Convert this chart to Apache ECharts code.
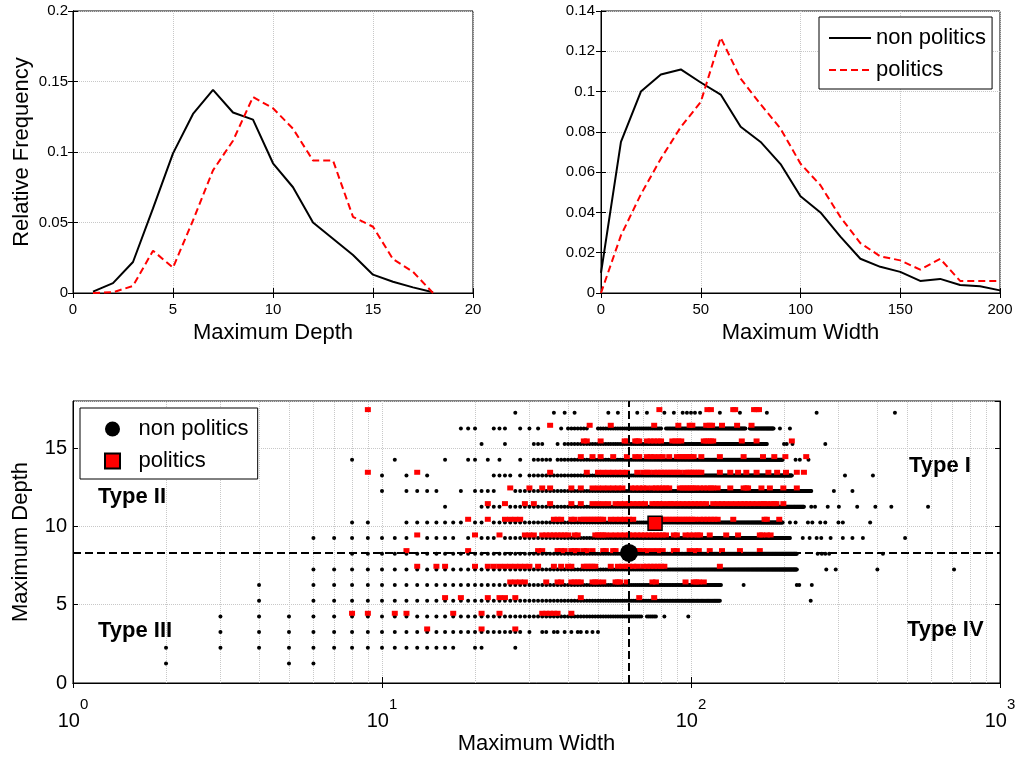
<!DOCTYPE html>
<html><head><meta charset="utf-8">
<script src="https://cdn.jsdelivr.net/npm/echarts@6/dist/echarts.min.js"></script>
<style>html,body{margin:0;padding:0;background:#fff}#c{width:1019px;height:762px}</style>
</head><body><div id="c"></div><script>
// ---------------- data ----------------
const DEPTH_X = [1,2,3,4,5,6,7,8,9,10,11,12,13,14,15,16,17,18];
const DEPTH_NONPOL = [0.001,0.007,0.022,0.06,0.099,0.127,0.144,0.128,0.123,0.092,0.075,0.050,0.0385,0.027,0.013,0.008,0.004,0.0005];
const DEPTH_POL = [0,0.0005,0.005,0.030,0.018,0.0515,0.087,0.108,0.139,0.131,0.1165,0.094,0.094,0.054,0.047,0.024,0.015,0];

const WIDTH_X = [0,10,20,30,40,50,60,70,80,90,100,110,120,130,140,150,160,170,180,190,200];
const WIDTH_NONPOL = [0.01,0.075,0.100,0.1085,0.111,0.1045,0.0985,0.0825,0.075,0.064,0.048,0.040,0.028,0.017,0.013,0.0105,0.006,0.007,0.004,0.0033,0.0013];
const WIDTH_POL = [0,0.0286,0.049,0.0667,0.0824,0.0948,0.1268,0.1064,0.0937,0.0816,0.0642,0.0535,0.0377,0.0248,0.0182,0.0162,0.0116,0.017,0.006,0.006,0.006];

// scatter rows: depth of each row and the widths seen on it ("a-b" = every integer width from a to b)
const SCAT_NONPOL_DEPTH = [17.25,16.25,15.25,14.25,13.25,12.25,11.25,10.25,9.25,8.25,7.25,6.25,5.25,4.25,3.25,2.25,1.25];
const SCAT_NONPOL_WIDTHS = [
 "27,36,39,42,54,58,67,72,82,88,94,97,100,103,107,124,144,176,255,457",
 "18,19,20,23,24,25,28,30,32,38,40-46,50-80,83-150,155-185,194,209",
 "21,25,31,32,33,37,39-176,200,204,213,272",
 "8,11,16,19,20,22,24,28,31-35,37-198,218,225,240",
 "10,12,14,23,24,25,26,28,30-212,315,388",
 "10,12,13,14,15,18,20,21,22,23,27-245,290,333",
 "16,21,22,23,24,26,27,28,29,30-232,245,252,277,301,345,395,445,585",
 "8,9,12,13,14,15,16,17,18,20,21,23-198,209,218,239,247,262,272,300,310,380",
 "6-12,14-17,19,21,22,23,25-209,230,242,255,264,283,310,333,360,493",
 "8-220,257,265,272,280,418",
 "6-220,274,294,401,710",
 "4,6-125,148,220,224,246",
 "4,6-124,244",
 "3-69,72-77,82,98",
 "3-28,30,33,34,36,37,39,41,43,44,46,48,50",
 "2-17,20,21,27",
 "2,5,6"
];
const SCAT_POL_DEPTH = [17.45,16.45,15.45,14.45,13.45,12.45,11.45,10.45,9.45,8.45,7.45,6.45,5.45,4.45,3.45];
const SCAT_POL_WIDTHS = [
 "9,79,113,116,137,139,160,163,166",
 "35,47,55,76,91,99,101,112,115,117,126,141,157",
 "45,46,51,61,62,66,67,68,72,74,76,78,80,87,89,91,93,110,112,114,116,118,146,163,212",
 "44,48,51,56,62,66,68,72,74,76,79,81,85,90,92,94,96,98,100,102,108,124,148,171,186,202,236",
 "9,13,35,46,50,52,54,56,58,60,62,67,70,72,73,76,78,80,82,84,86,88,90,92,96,98,100,102,104,106,108,124,134,142,151,163,178,190,203,220,232",
 "26,30,33,35,41,44,48,50,52,54,56,58,60,64,66,68,70,72,75,77,79,81,83,85,92,94,96,98,100,102,104,107,110,113,116,118,122,134,148,151,153,169,180,199,220",
 "22,25,29,31,35,41,44,48,50,52,54,57,59,61,63,65,67,69,71,75,77,79,81,84,86,88,91,94,97,100,103,106,109,112,118,122,126,130,135,140,145,149,153,158,163,169,172,176,182,186,189,199",
 "19,22,25,26,27,28,36,37,38,41,42,44,45,46,47,48,49,50,51,52,55,57,59,61,63,65,81,83,85,87,89,91,93,95,97,99,101,103,107,110,113,116,119,122,137,173,176,193",
 "13,20,24,29,30,31,33,34,35,36,37,38,39,40,42,43,49,50,51,52,53,55,57,59,61,63,65,67,69,71,73,75,77,79,81,83,88,90,96,99,102,105,107,115,130,142,167,170,176,181",
 "12,19,32,33,37,38,39,41,42,43,45,46,48,52,53,56,57,65,67,68,70,72,75,78,81,88,90,99,103,106,115,126,144,167",
 "13,15,16,20,22,23,24,25,26,27,28,29,30,32,36,38,40,41,45,46,47,48,49,55,58,60,62,63,65,67,70,72,74,76,78,80,82,124",
 "26,27,28,29,34,37,38,41,42,43,44,48,49,50,52,57,58,59,62,75,77,96,102,104,106,110",
 "16,18,22,24,25,27,44,68,76",
 "8,9,11,12,17,21,24,33,34,35,36,37,41",
 "14,21,27"
];
const MEAN_NONPOL = [63, 8.3];
const MEAN_POL = [76.5, 10.2];
const LOG_MINOR = [2,3,4,5,6,7,8,9,20,30,40,50,60,70,80,90,200,300,400,500,600,700,800,900];
const SERIES_NAMES = ['non politics', 'politics'];
const TYPE_LABELS = ['Type I', 'Type II', 'Type III', 'Type IV'];

// ---------------- helpers ----------------
function expand(spec){
  const out = [];
  spec.split(',').forEach(t => {
    if (t.indexOf('-') > 0) { const p = t.split('-').map(Number); for (let w = p[0]; w <= p[1]; w++) out.push(w); }
    else out.push(Number(t));
  });
  return out;
}
function rowsToPoints(depths, widths){
  const pts = [];
  depths.forEach((d, i) => expand(widths[i]).forEach(w => pts.push([w, d])));
  return pts;
}
const zip = (xs, ys) => xs.map((x, i) => [x, ys[i]]);

const FONT = 'Liberation Sans, Arial, Helvetica, sans-serif';
const BLACK = '#000';
const RED = '#ff0000';
const SQUARE = 'path://M0,0H10V10H0Z';
const grid = {show: true, lineStyle: {color: '#c8c8c8', type: 'dotted', width: 1}};
const axLine = {show: true, lineStyle: {color: BLACK, width: 1}};
const tick = {show: true, inside: true, length: 5, lineStyle: {color: BLACK}};
const titleStyle = {fontSize: 22, color: BLACK, fontFamily: FONT};

function valAxis(o){
  return Object.assign({type: 'value', axisLine: axLine, axisTick: tick, splitLine: grid,
    axisLabel: {color: BLACK, fontSize: 15, fontFamily: FONT}}, o);
}
function mirror(o){
  return Object.assign({axisLine: axLine, axisTick: tick, splitLine: {show: false}, axisLabel: {show: false}}, o);
}

const chart = echarts.init(document.getElementById('c'), null, {renderer: 'canvas'});
const option = {
  animation: false,
  backgroundColor: '#fff',
  textStyle: {fontFamily: FONT},
  grid: [
    {left: 73, top: 11, width: 400, height: 282, show: true, borderColor: BLACK, borderWidth: 1, outerBoundsMode: 'none', containLabel: false},
    {left: 601, top: 11, width: 399, height: 282, show: true, borderColor: BLACK, borderWidth: 1, outerBoundsMode: 'none', containLabel: false},
    {left: 73, top: 401, width: 927, height: 282, show: true, borderColor: BLACK, borderWidth: 1, outerBoundsMode: 'none', containLabel: false}
  ],
  xAxis: [
    valAxis({gridIndex: 0, min: 0, max: 20, interval: 5, name: 'Maximum Depth', nameLocation: 'middle', nameGap: 29, nameTextStyle: titleStyle,
      axisLabel: {color: BLACK, fontSize: 15, fontFamily: FONT, margin: 9}}),
    valAxis({gridIndex: 1, min: 0, max: 200, interval: 50, name: 'Maximum Width', nameLocation: 'middle', nameGap: 29, nameTextStyle: titleStyle,
      axisLabel: {color: BLACK, fontSize: 15, fontFamily: FONT, margin: 9}}),
    {gridIndex: 2, type: 'log', logBase: 10, min: 1, max: 1000, axisLine: axLine, axisTick: {show: true, inside: true, length: 6, lineStyle: {color: BLACK}},
      splitLine: grid, name: 'Maximum Width', nameLocation: 'middle', nameGap: 50, nameTextStyle: titleStyle,
      axisLabel: {margin: 14, formatter: v => '{b|10}{s|' + Math.round(Math.log10(v)) + '}',
        rich: {b: {fontSize: 20, fontFamily: FONT, color: BLACK, padding: [14, 0, 0, 0]},
               s: {fontSize: 15, fontFamily: FONT, color: BLACK, verticalAlign: 'top'}}}},
    mirror({type: 'value', gridIndex: 0, position: 'top', min: 0, max: 20, interval: 5}),
    mirror({type: 'value', gridIndex: 1, position: 'top', min: 0, max: 200, interval: 50}),
    mirror({type: 'log', gridIndex: 2, position: 'top', logBase: 10, min: 1, max: 1000})
  ],
  yAxis: [
    valAxis({gridIndex: 0, min: 0, max: 0.2, interval: 0.05, name: 'Relative Frequency', nameLocation: 'middle', nameGap: 40, nameRotate: 90, nameTextStyle: titleStyle,
      axisLabel: {color: BLACK, fontSize: 15, fontFamily: FONT, margin: 5}}),
    valAxis({gridIndex: 1, min: 0, max: 0.14, interval: 0.02,
      axisLabel: {color: BLACK, fontSize: 15, fontFamily: FONT, margin: 6}}),
    valAxis({gridIndex: 2, min: 0, max: 18, interval: 5, name: 'Maximum Depth', nameLocation: 'middle', nameGap: 41, nameRotate: 90, nameTextStyle: titleStyle,
      axisLabel: {color: BLACK, fontSize: 20, fontFamily: FONT, margin: 6, showMaxLabel: false}}),
    mirror({type: 'value', gridIndex: 0, position: 'right', min: 0, max: 0.2, interval: 0.05}),
    mirror({type: 'value', gridIndex: 1, position: 'right', min: 0, max: 0.14, interval: 0.02}),
    mirror({type: 'value', gridIndex: 2, position: 'right', min: 0, max: 18, interval: 5})
  ],
  legend: [
    {data: SERIES_NAMES, orient: 'vertical', left: 819, top: 17, padding: [9, 6, 7, 9], itemGap: 8, itemWidth: 42, itemHeight: 14,
      itemStyle: {opacity: 0},
      backgroundColor: '#fff', borderColor: BLACK, borderWidth: 1, borderRadius: 0, selectedMode: false,
      textStyle: {fontSize: 22, color: BLACK, fontFamily: FONT, lineHeight: 24}},
    {data: [{name: SERIES_NAMES[0] + ' ', icon: 'circle'}, {name: SERIES_NAMES[1] + ' ', icon: SQUARE}],
      orient: 'vertical', left: 80, top: 408, padding: [9, 3, 6, 24], itemGap: 8, itemWidth: 42, itemHeight: 15,
      backgroundColor: '#fff', borderColor: BLACK, borderWidth: 1, borderRadius: 0, selectedMode: false,
      textStyle: {fontSize: 22, color: BLACK, fontFamily: FONT, lineHeight: 24}}
  ],
  series: [
    {type: 'line', name: SERIES_NAMES[0], xAxisIndex: 0, yAxisIndex: 0, data: zip(DEPTH_X, DEPTH_NONPOL), symbol: 'none', showSymbol: false,
      lineStyle: {color: BLACK, width: 2}, itemStyle: {color: BLACK}},
    {type: 'line', name: SERIES_NAMES[1], xAxisIndex: 0, yAxisIndex: 0, data: zip(DEPTH_X, DEPTH_POL), symbol: 'none', showSymbol: false,
      lineStyle: {color: RED, width: 2, type: [7, 4]}, itemStyle: {color: RED}},
    {type: 'line', name: SERIES_NAMES[0], xAxisIndex: 1, yAxisIndex: 1, data: zip(WIDTH_X, WIDTH_NONPOL), symbol: 'none', showSymbol: false,
      lineStyle: {color: BLACK, width: 2}, itemStyle: {color: BLACK}},
    {type: 'line', name: SERIES_NAMES[1], xAxisIndex: 1, yAxisIndex: 1, data: zip(WIDTH_X, WIDTH_POL), symbol: 'none', showSymbol: false,
      lineStyle: {color: RED, width: 2, type: [7, 4]}, itemStyle: {color: RED}},
    {type: 'scatter', name: 'nonpol-trees', xAxisIndex: 2, yAxisIndex: 2, z: 2, silent: true,
      data: rowsToPoints(SCAT_NONPOL_DEPTH, SCAT_NONPOL_WIDTHS), symbol: 'circle', symbolSize: 4, itemStyle: {color: BLACK, opacity: 1},
      markLine: {silent: true, symbol: ['none', 'none'], label: {show: false}, z: 1,
        lineStyle: {color: '#c8c8c8', type: 'dotted', width: 1}, data: LOG_MINOR.map(v => ({xAxis: v}))}},
    {type: 'scatter', name: 'pol-trees', xAxisIndex: 2, yAxisIndex: 2, z: 3, silent: true,
      data: rowsToPoints(SCAT_POL_DEPTH, SCAT_POL_WIDTHS), symbol: 'rect', symbolSize: [6, 5], itemStyle: {color: RED, opacity: 1}},
    {type: 'scatter', name: 'mean-lines', xAxisIndex: 2, yAxisIndex: 2, z: 4, silent: true, data: [],
      markLine: {silent: true, symbol: ['none', 'none'], label: {show: false}, z: 4,
        lineStyle: {color: BLACK, type: [8, 4], width: 2},
        data: [{xAxis: MEAN_NONPOL[0]}, {yAxis: MEAN_NONPOL[1]}]}},
    {type: 'scatter', name: SERIES_NAMES[0] + ' ', xAxisIndex: 2, yAxisIndex: 2, z: 6, data: [MEAN_NONPOL],
      symbol: 'circle', symbolSize: 18, itemStyle: {color: BLACK, opacity: 1}},
    {type: 'scatter', name: SERIES_NAMES[1] + ' ', xAxisIndex: 2, yAxisIndex: 2, z: 6, data: [MEAN_POL],
      symbol: 'rect', symbolSize: 14, itemStyle: {color: RED, borderColor: BLACK, borderWidth: 1.5, opacity: 1}}
  ],
  graphic: [
    {type: 'text', left: 909, top: 455, style: {text: TYPE_LABELS[0], font: 'bold 22px ' + FONT, fill: BLACK}},
    {type: 'text', left: 98, top: 486, style: {text: TYPE_LABELS[1], font: 'bold 22px ' + FONT, fill: BLACK}},
    {type: 'text', left: 98, top: 620, style: {text: TYPE_LABELS[2], font: 'bold 22px ' + FONT, fill: BLACK}},
    {type: 'text', left: 907, top: 619, style: {text: TYPE_LABELS[3], font: 'bold 22px ' + FONT, fill: BLACK}}
  ]
};
chart.setOption(option);
</script></body></html>
